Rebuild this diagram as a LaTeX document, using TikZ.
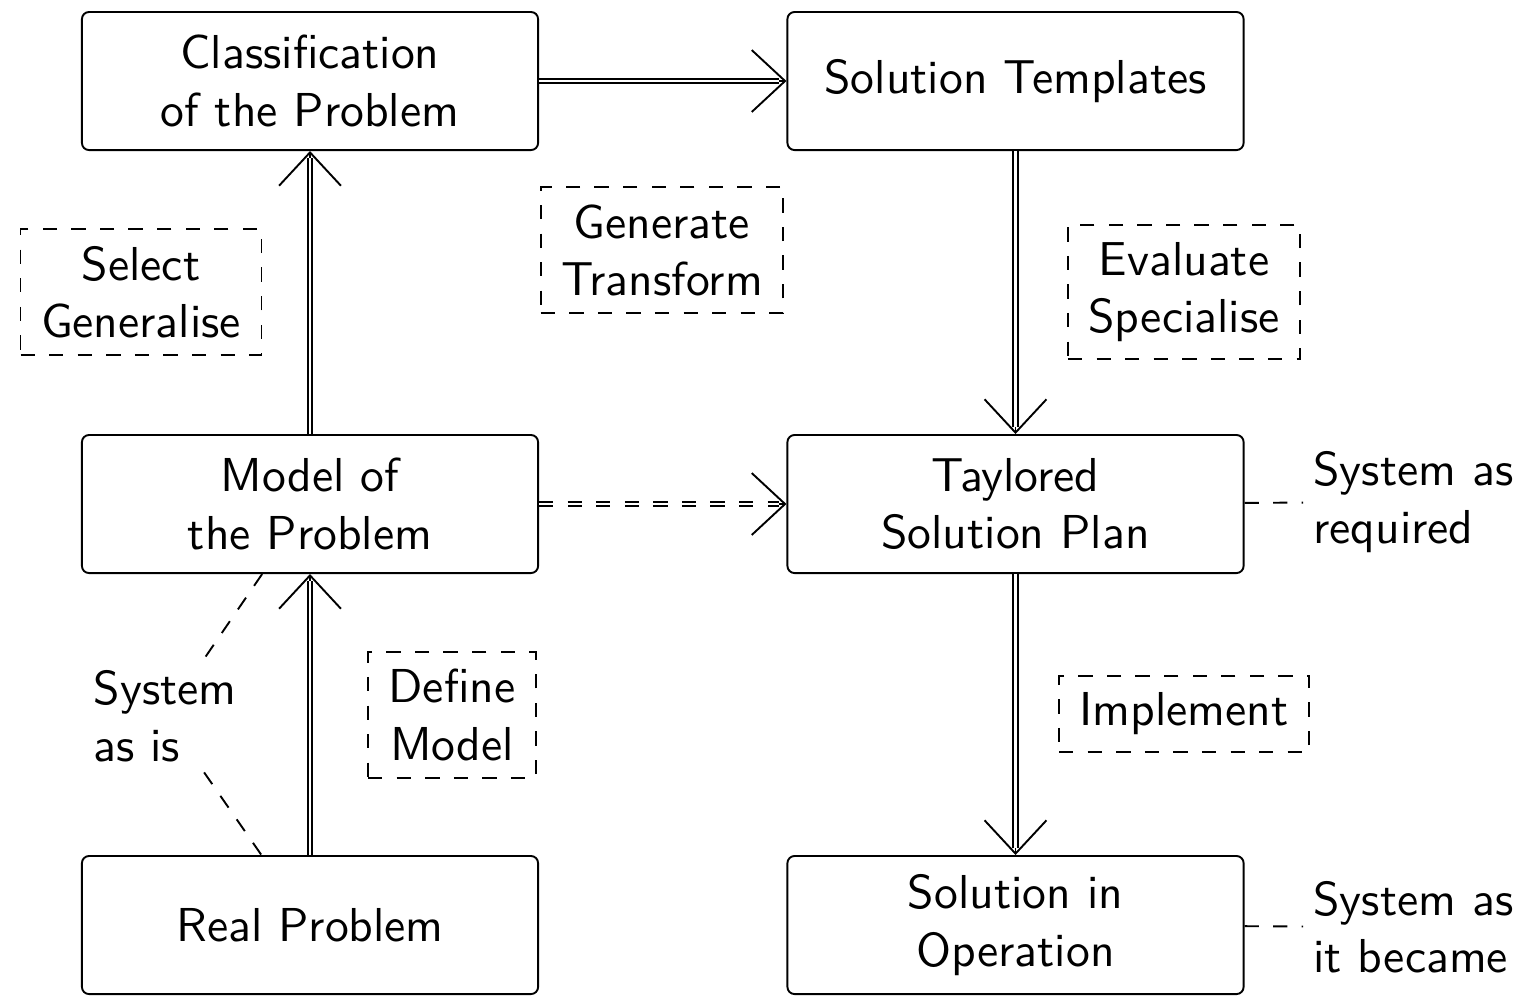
\documentclass[tikz,border=0pt]{standalone}
\usetikzlibrary{arrows.meta}
\begin{document}
\begin{tikzpicture}[x=0.21pt,y=-0.21pt, font=\sffamily,
  box/.style={draw, rounded corners=1.5pt, line width=0.4pt,
    minimum width=95.8pt, minimum height=29pt, align=center, inner sep=2pt},
  lbl/.style={draw, dashed, line width=0.4pt, align=center,
    inner xsep=4.3pt, inner ysep=3.6pt},
  note/.style={align=left, inner sep=2pt},
  dbl/.style={double, double distance=0.6pt, line width=0.4pt, shorten >=1.5pt},
  tiphead/.style={line width=0.4pt, shorten <=48pt,
    -{Straight Barb[length=7pt,width=13pt]}},
  link/.style={dashed, line width=0.4pt}]

\useasboundingbox (0,0) rectangle (1526,995);

% main boxes
\node[box] (cls)  at (310,81)    {Classification\\of the Problem};
\node[box] (tpl)  at (1015.5,81) {Solution Templates};
\node[box] (mdl)  at (310,504)   {Model of\\the Problem};
\node[box] (tay)  at (1015.5,504) {Taylored\\Solution Plan};
\node[box] (real) at (310,925)   {Real Problem};
\node[box] (sol)  at (1015.5,925) {Solution in\\Operation};

% activity labels
\node[lbl] (sel) at (141,292)  {Select\\Generalise};
\node[lbl] (gen) at (662,250)  {Generate\\Transform};
\node[lbl] (eva) at (1184,292) {Evaluate\\Specialise};
\node[lbl] (def) at (452,715)  {Define\\Model};
\node[lbl] (imp) at (1184,714) {Implement};

% system states
\node[note] (asis) at (165,716) {System\\as is};
\node[note, anchor=west] (req) at (1303,502) {System as\\required};
\node[note, anchor=west] (bec) at (1303,927) {System as\\it became};

% double arrows: head first, then the double shaft over it
\newcommand\dblarrow[3][]{%
  \draw[tiphead] (#2) -- (#3);
  \draw[dbl,#1] (#2) -- (#3);}
\dblarrow{real}{mdl}
\dblarrow{mdl}{cls}
\dblarrow{cls}{tpl}
\dblarrow{tpl}{tay}
\dblarrow{tay}{sol}
\dblarrow[dashed]{mdl}{tay}

% state links
\draw[link] (mdl) -- (asis) -- (real);
\draw[link] (tay) -- (req);
\draw[link] (sol) -- (bec);
\end{tikzpicture}
\end{document}
